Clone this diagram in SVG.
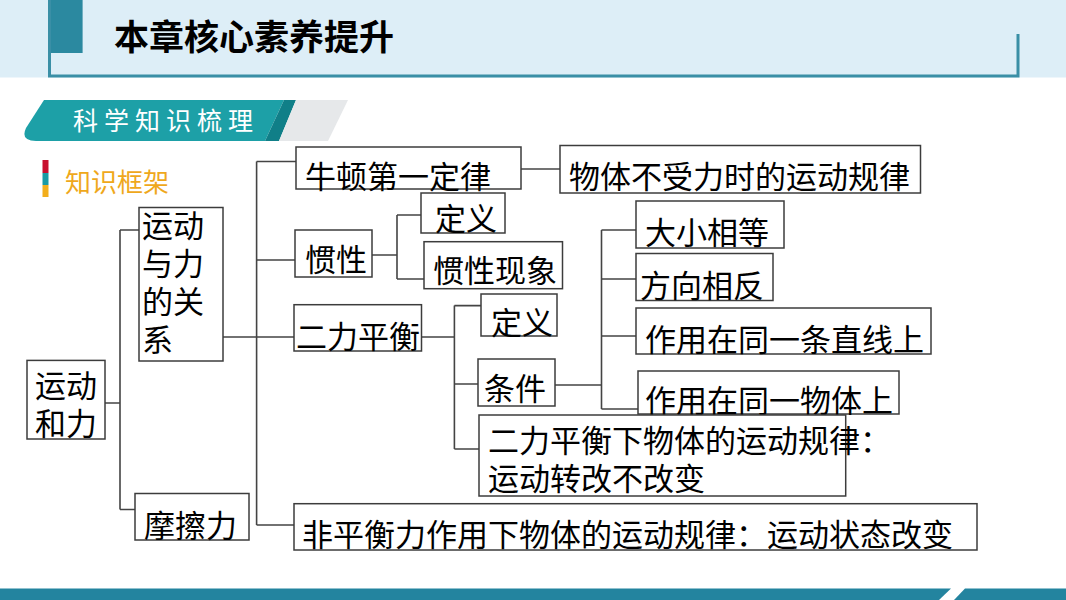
<svg xmlns="http://www.w3.org/2000/svg" width="1066" height="600" viewBox="0 0 1066 600">
<style>
.box{fill:#fff;stroke:#3c3c3c;stroke-width:1.5}
.t{font-family:"Noto Sans CJK SC","Liberation Sans",sans-serif;font-size:31px;fill:#000}
.conn{fill:none;stroke:#444;stroke-width:1.6}
</style>
<rect x="0" y="0" width="1066" height="77.5" fill="#DDEEF7"/>
<rect x="48.6" y="0" width="34" height="53" fill="#2B89A0"/>
<path d="M49.5,0 V76 H1018 V34" fill="none" stroke="#3A8FA6" stroke-width="3"/>
<text x="114" y="50" font-family="Noto Sans CJK SC,sans-serif" font-size="35" font-weight="bold" fill="#000">本章核心素养提升</text>
<path d="M44,100 H284 L265,141 H36 Q20,141 26,128 Z" fill="#1DA0A7"/>
<path d="M284,100 H296 L279,141 H265 Z" fill="#107F88"/>
<path d="M296,100 H348 L328,141 H279 Z" fill="#E6E8EA"/>
<text x="73" y="130" font-family="Noto Sans CJK SC,sans-serif" font-size="25" letter-spacing="6" fill="#fff">科学知识梳理</text>
<rect x="42.5" y="160" width="6" height="13" fill="#C8102E"/>
<rect x="42.5" y="173" width="6" height="12" fill="#1A9AA3"/>
<rect x="42.5" y="185" width="6" height="12" fill="#F2AE1C"/>
<text x="65" y="192" font-family="Noto Sans CJK SC,sans-serif" font-size="26" fill="#EFA81C">知识框架</text>
<path d="M0,588.5 H951 L939,600 H0 Z" fill="#23849F"/>
<path d="M965,588.5 H1066 V600 H954 Z" fill="#23849F"/>
<g id="connectors">
<path class="conn" d="M105,403 H120 M120,230 V509.5 M120,230 H139 M120,509.5 H135"/>
<path class="conn" d="M223,337 H294 M256.6,161.5 V525 M256.6,161.5 H296 M256.6,260 H295 M256.6,525 H294"/>
<path class="conn" d="M521,169 H560"/>
<path class="conn" d="M372,255 H397 M397,215 V279 M397,215 H421 M397,279 H424"/>
<path class="conn" d="M421.5,337 H454.4 M454.4,305.6 V449 M454.4,305.6 H481 M454.4,384 H478 M454.4,449 H479"/>
<path class="conn" d="M555,385 H601.5 M601.5,230 V409 M601.5,230 H636 M601.5,279 H636 M601.5,336 H636 M601.5,409 H638"/>
</g>
<g id="n-yundongheli"><rect class="box" x="27" y="360.4" width="78" height="78.6"/><text class="t"><tspan x="35" y="397">运动</tspan><tspan x="35" y="435">和力</tspan></text></g>
<g id="n-relation"><rect class="box" x="139" y="207.5" width="84" height="153.5"/><text class="t"><tspan x="142" y="237">运动</tspan><tspan x="142" y="275">与力</tspan><tspan x="142" y="313">的关</tspan><tspan x="142" y="351">系</tspan></text></g>
<g id="n-friction"><rect class="box" x="135" y="493.5" width="114" height="46.5"/><text class="t" x="144" y="537">摩擦力</text></g>
<g id="n-newton1"><rect class="box" x="296" y="147" width="225" height="42"/><text class="t" x="305" y="188">牛顿第一定律</text></g>
<g id="n-law0"><rect class="box" x="560" y="145.5" width="360.5" height="47.5"/><text class="t" x="569" y="188">物体不受力时的运动规律</text></g>
<g id="n-inertia"><rect class="box" x="295" y="230" width="77" height="47"/><text class="t" x="305" y="271">惯性</text></g>
<g id="n-def1"><rect class="box" x="421" y="193" width="84" height="40"/><text class="t" x="435" y="229.5">定义</text></g>
<g id="n-phenom"><rect class="box" x="424" y="241.7" width="138.5" height="47"/><text class="t" x="433" y="281.5">惯性现象</text></g>
<g id="n-balance"><rect class="box" x="294" y="304.7" width="127.5" height="46.3"/><text class="t" x="296" y="348">二力平衡</text></g>
<g id="n-def2"><rect class="box" x="481" y="294" width="76" height="42"/><text class="t" x="491" y="334">定义</text></g>
<g id="n-cond"><rect class="box" x="478" y="359" width="77" height="47"/><text class="t" x="484" y="400">条件</text></g>
<g id="n-equal"><rect class="box" x="636" y="201" width="148" height="47"/><text class="t" x="645" y="244">大小相等</text></g>
<g id="n-opp"><rect class="box" x="636" y="253.5" width="137" height="47"/><text class="t" x="640" y="297">方向相反</text></g>
<g id="n-line"><rect class="box" x="636" y="308" width="295" height="46"/><text class="t" x="645" y="351">作用在同一条直线上</text></g>
<g id="n-body"><rect class="box" x="638" y="371" width="261" height="43"/><text class="t" x="645" y="412">作用在同一物体上</text></g>
<g id="n-law1"><rect class="box" x="479" y="415" width="366.7" height="81"/><text class="t"><tspan x="488" y="452">二力平衡下物体的运动规律：</tspan><tspan x="488" y="490">运动转改不改变</tspan></text></g>
<g id="n-law2"><rect class="box" x="294" y="503.7" width="683" height="46.3"/><text class="t" x="302" y="546">非平衡力作用下物体的运动规律：运动状态改变</text></g>
</svg>
